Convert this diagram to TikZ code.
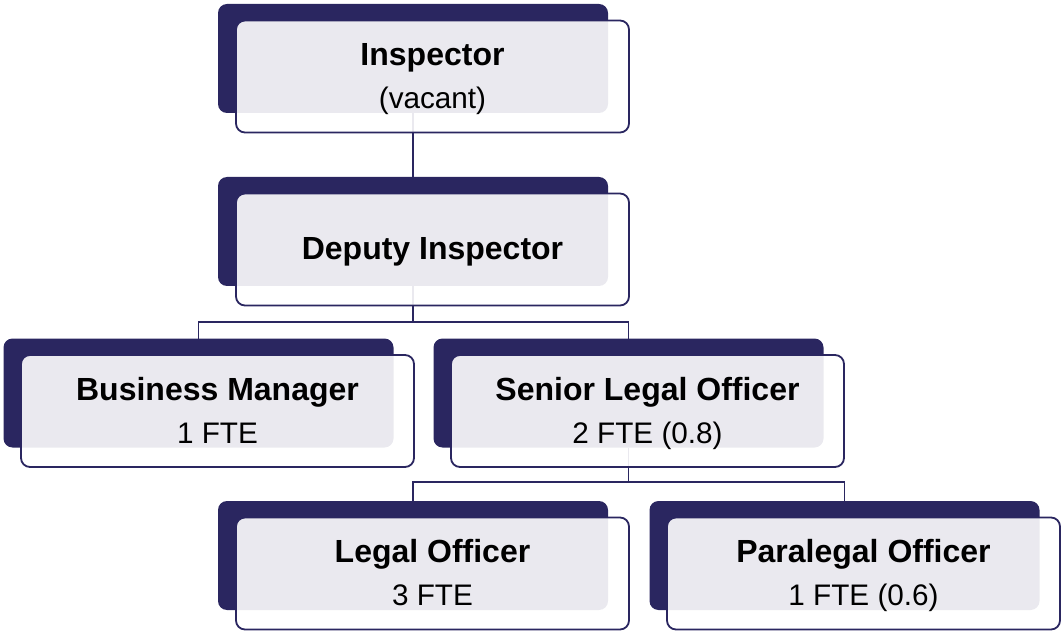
\documentclass[tikz,border=0pt]{standalone}
\usepackage{fontspec}
\setmainfont{Liberation Sans}
\usetikzlibrary{calc}
\definecolor{navy}{HTML}{2A2660}
\tikzset{
  x=1pt, y=-1pt,
  navybox/.style={fill=navy, rounded corners=9pt, minimum width=390pt, minimum height=109pt, inner sep=0pt, outer sep=0pt},
  outbox/.style={draw=navy, line width=1.8pt, fill=white, fill opacity=0.9, rounded corners=9pt, minimum width=393pt, minimum height=112pt, inner sep=0pt, outer sep=0pt},
  ttl/.style={anchor=base, font=\fontsize{32}{36}\selectfont\bfseries, text=black, inner sep=0pt},
  sub/.style={anchor=base, font=\fontsize{29.7}{36}\selectfont, text=black, inner sep=0pt},
  link/.style={draw=navy, line width=1.9pt},
}
\begin{document}
\begin{tikzpicture}
\useasboundingbox (0,0) rectangle (1061,631);
% back (navy) boxes
\node[navybox] (insB) at (413,58.5) {};
\node[navybox] (depB) at (413,231.5) {};
\node[navybox] (bmB) at (198.5,393) {};
\node[navybox] (slB) at (628.5,393) {};
\node[navybox] (loB) at (413,555.5) {};
\node[navybox] (plB) at (844.5,555.5) {};
% connectors
\coordinate (j1) at (413,322);
\coordinate (j2) at (628.5,482);
\draw[link] (insB.south) -- (depB.north);
\draw[link] (depB.south) -- (j1) -| (bmB.north);
\draw[link] (j1) -| (slB.north);
\draw[link] (slB.south) -- (j2) -| (loB.north);
\draw[link] (j2) -| (plB.north);
% front (outlined) boxes
\node[outbox] (ins) at ($(insB)+(19.5,18)$) {};
\node[outbox] (dep) at ($(depB)+(19.5,18)$) {};
\node[outbox] (bm) at ($(bmB)+(19,18)$) {};
\node[outbox] (sl) at ($(slB)+(19,18)$) {};
\node[outbox] (lo) at ($(loB)+(19.5,18)$) {};
\node[outbox] (pl) at ($(plB)+(19,18)$) {};
% texts
\node[ttl] (insT) at ($(ins.north)+(0,45)$) {Inspector};
\node[sub] (insS) at ($(ins.north)+(0,88)$) {(vacant)};
\node[ttl] (depT) at ($(dep.north)+(0,66)$) {Deputy Inspector};
\node[ttl] (bmT) at ($(bm.north)+(0,45)$) {Business Manager};
\node[sub] (bmS) at ($(bm.north)+(0,88)$) {1 FTE};
\node[ttl] (slT) at ($(sl.north)+(0,45)$) {Senior Legal Officer};
\node[sub] (slS) at ($(sl.north)+(0,88)$) {2 FTE (0.8)};
\node[ttl] (loT) at ($(lo.north)+(0,45)$) {Legal Officer};
\node[sub] (loS) at ($(lo.north)+(0,88)$) {3 FTE};
\node[ttl] (plT) at ($(pl.north)+(0,45)$) {Paralegal Officer};
\node[sub] (plS) at ($(pl.north)+(0,88)$) {1 FTE (0.6)};
\end{tikzpicture}
\end{document}
